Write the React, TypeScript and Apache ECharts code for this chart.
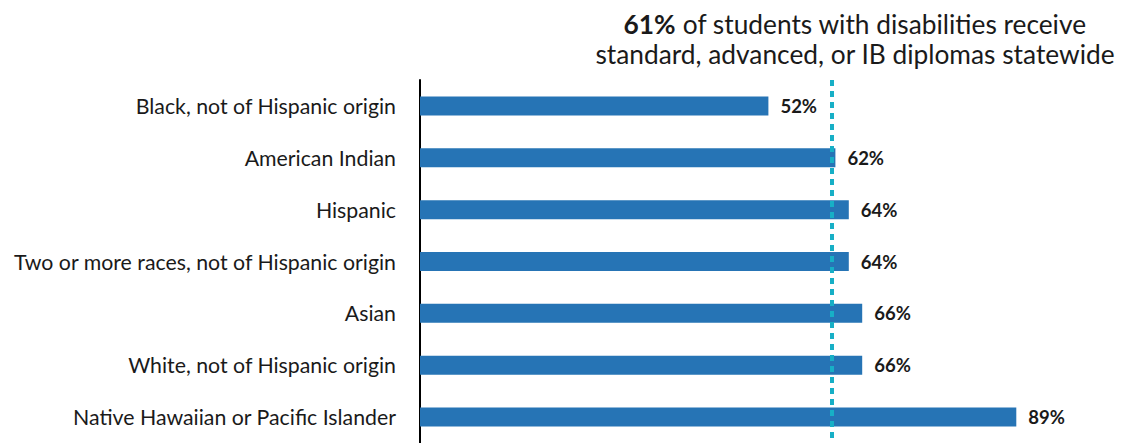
import React, { useEffect, useRef } from "react";
import * as echarts from "echarts";

const categories = [
  "Black, not of Hispanic origin",
  "American Indian",
  "Hispanic",
  "Two or more races, not of Hispanic origin",
  "Asian",
  "White, not of Hispanic origin",
  "Native Hawaiian or Pacific Islander",
];
const values = [52, 62, 64, 64, 66, 66, 89];
const statewide = 61.4;
const statewideLabel = "61%";

export default function App() {
  const ref = useRef<HTMLDivElement>(null);
  useEffect(() => {
    const chart = echarts.init(ref.current!, null, { renderer: "svg" });
    chart.setOption({
      animation: false,
      title: {
        left: 850,
        top: 4,
        textAlign: "center",
        text: `{b|${statewideLabel}} of students with disabilities receive\nstandard, advanced, or IB diplomas statewide`,
        textStyle: {
          fontFamily: "Lato",
          fontSize: 26.3,
          fontWeight: "normal",
          color: "#1a1a1a",
          lineHeight: 30,
          rich: {
            b: { fontFamily: "Lato", fontSize: 26.3, fontWeight: "bold", color: "#1a1a1a", lineHeight: 30 },
          },
        },
      },
      grid: { left: 420, top: 80, width: 670, height: 364 },
      xAxis: {
        type: "value",
        min: 0,
        max: 100,
        show: false,
      },
      yAxis: {
        type: "category",
        data: categories,
        inverse: true,
        axisLine: { show: true, lineStyle: { color: "#000", width: 2 } },
        axisTick: { show: false },
        axisLabel: {
          margin: 24,
          fontFamily: "Lato",
          fontSize: 21.3,
          color: "#1a1a1a",
        },
      },
      series: [
        {
          type: "bar",
          data: values,
          barWidth: 19,
          itemStyle: { color: "#2674B5" },
          label: {
            show: true,
            position: "right",
            distance: 12,
            formatter: "{c}%",
            fontFamily: "Lato",
            fontWeight: "bold",
            fontSize: 18.5,
            color: "#1a1a1a",
          },
          markLine: {
            symbol: "none",
            silent: true,
            label: { show: false },
            lineStyle: { color: "#17AFC6", width: 4, type: [6, 5] },
            data: [{ xAxis: statewide }],
          },
          z: 2,
        },
      ],
    });
    return () => chart.dispose();
  }, []);
  return (
    <div
      ref={ref}
      style={{ position: "absolute", left: 0, top: 0, width: 1139, height: 443, background: "#fff" }}
    />
  );
}
